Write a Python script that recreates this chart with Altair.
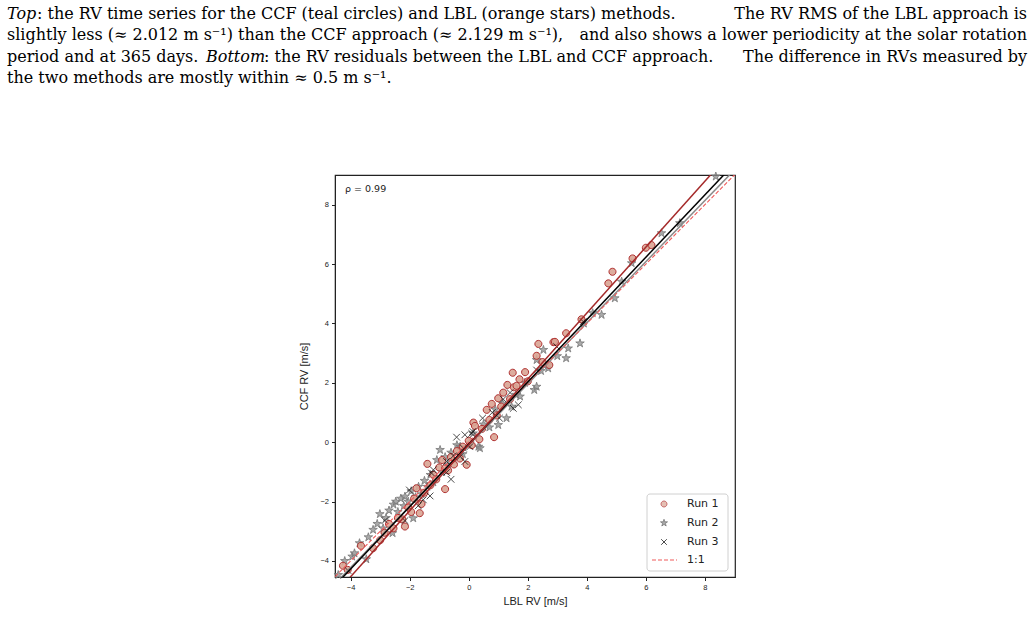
import altair as alt
import pandas as pd

# ---------------- data ----------------
run1_x = [-4.26, -4.10, -3.65, -3.24, -3.00, -2.85, -2.70, -2.55, -2.40, -2.25, -2.16, -2.05, -1.95, -1.85,
          -1.77, -1.66, -1.60, -1.50, -1.40, -1.30, -1.20, -1.10, -1.00, -0.90, -0.80, -0.80, -0.70, -0.60,
          -0.50, -0.40, -0.30, -0.20, -0.07, 0.00, 0.10, 0.16, 0.21, 0.36, 0.45, 0.61, 0.70, 0.78, 0.86,
          0.95, 1.00, 1.10, 1.17, 1.31, 1.40, 1.49, 1.53, 1.62, 1.72, 1.91, 2.00, 2.30, 2.36, 2.50, 2.73,
          2.87, 2.92, 3.30, 3.82, 4.73, 4.87, 5.55, 6.00, 6.19]
run1_y = [-4.16, -4.30, -3.49, -3.57, -3.30, -3.05, -2.75, -2.90, -2.55, -2.60, -2.84, -2.20, -2.35, -1.90,
          -1.55, -2.39, -2.08, -1.70, -0.73, -1.45, -1.10, -1.25, -0.85, -0.60, -0.88, -1.58, -0.95, -0.50,
          -0.75, -0.30, -0.55, -0.15, -0.76, 0.05, -0.10, 0.66, 0.55, 0.10, 0.45, 1.09, 0.75, 1.29, 0.17,
          0.90, 1.48, 1.20, 1.67, 1.93, 1.45, 2.34, 1.85, 1.90, 2.12, 2.36, 2.05, 2.91, 3.31, 2.70, 2.60,
          3.37, 3.38, 3.67, 4.14, 5.35, 5.74, 6.19, 6.55, 6.64]

run2_x = [-4.42, -4.20, -3.95, -3.87, -3.70, -3.47, -3.40, -3.24, -3.10, -3.01, -2.90, -2.80, -2.70, -2.58,
          -2.55, -2.47, -2.40, -2.30, -2.20, -2.16, -2.05, -1.95, -1.88, -1.80, -1.70, -1.60, -1.50, -1.40,
          -1.30, -1.20, -1.08, -0.97, -0.90, -0.80, -0.70, -0.60, -0.50, -0.40, -0.29, -0.20, 0.04, 0.15,
          0.33, 0.38, 0.50, 0.70, 0.90, 1.00, 1.15, 1.28, 1.45, 1.60, 1.74, 1.90, 2.22, 2.30, 2.30, 2.45,
          2.53, 2.69, 2.69, 3.00, 3.30, 3.37, 3.77, 3.90, 4.20, 4.50, 4.95, 5.18, 5.52, 6.53, 7.15, 8.37]
run2_y = [-4.47, -4.00, -3.85, -3.74, -3.40, -3.94, -3.20, -2.95, -2.75, -2.42, -2.90, -2.55, -2.30, -3.06,
          -2.10, -2.00, -2.35, -1.90, -2.15, -1.83, -2.00, -1.65, -2.56, -1.85, -1.50, -1.75, -1.30, -1.50,
          -1.10, -1.35, -0.60, -0.26, -1.00, -0.50, -0.75, -0.35, -0.60, -0.10, -0.15, -0.40, -0.03, 0.30,
          -0.15, -0.20, 0.60, 0.50, 1.10, 0.58, 1.30, 0.81, 1.20, 1.60, 1.54, 2.00, 1.76, 1.87, 2.77, 2.40,
          3.11, 2.49, 2.60, 2.90, 2.83, 3.16, 3.33, 4.00, 4.35, 4.29, 4.85, 5.41, 6.03, 7.04, 7.38, 8.95]

run3_x = [-4.09, -2.84, -2.16, -2.01, -1.71, -1.54, -1.31, -1.26, -1.20, -0.75, -0.60, -0.75, -0.52, -0.29,
          -0.13, -0.18, 0.04, -0.41, -0.13, 0.10, 0.14, 0.47, 0.80, 1.04, 1.17, 1.40, 1.51, 1.68, 2.30,
          2.98, 3.88]
run3_y = [-4.32, -2.64, -2.64, -1.61, -2.14, -1.94, -1.81, -1.04, -0.93, -1.02, -1.25, -0.65, -0.46, -0.48,
          -0.65, -0.20, -0.15, 0.17, 0.25, 0.30, 0.36, 0.81, 1.00, 0.81, 1.45, 1.67, 1.14, 1.26, 2.43,
          3.22, 4.06]

# fitted lines (slope, intercept)
line_names = ["Run 2 fit", "1:1", "Run 3 fit", "Run 1 fit"]
line_slopes = [1.03, 1.00, 1.05, 1.11]
line_inter = [-0.10, 0.00, -0.07, -0.09]
line_colors = ["#8a8a8a", "#f05a5a", "#000000", "#a52a2a"]

x_dom = [-4.53, 9.02]
y_dom = [-4.54, 9.00]
ticks = [-4, -2, 0, 2, 4, 6, 8]

legend_labels = ["Run 1", "Run 2", "Run 3", "1:1"]

cap_font = "DejaVu Serif"
cap_text = [
    "Top",
    ": the RV time series for the CCF (teal circles) and LBL (orange stars) methods.",
    "The RV RMS of the LBL approach is",
    "slightly less (≈ 2.012 m s⁻¹) than the CCF approach (≈ 2.129 m s⁻¹),",
    "and also shows a lower periodicity at the solar rotation",
    "period and at 365 days.",
    "Bottom",
    ": the RV residuals between the LBL and CCF approach.",
    "The difference in RVs measured by",
    "the two methods are mostly within ≈ 0.5 m s⁻¹.",
]

W, H = 400, 402
PL, PT = 335, 175

STAR = ("M0,-1L0.2245,-0.309L0.951,-0.309L0.363,0.118L0.588,0.809L0,0.382L-0.588,0.809"
        "L-0.363,0.118L-0.951,-0.309L-0.2245,-0.309Z")
CIRC = "M1,0A1,1,0,1,1,-1,0A1,1,0,1,1,1,0Z"
XMARK = "M-1,-1L1,1M-1,1L1,-1"

# ---------------- build ----------------
xs = alt.Scale(domain=x_dom, nice=False, zero=False)
ys = alt.Scale(domain=y_dom, nice=False, zero=False)

xenc = alt.X("x:Q", scale=xs, title="LBL RV [m/s]",
             axis=alt.Axis(values=ticks, grid=False, tickSize=3.5, labelFontSize=7.5,
                           titleFontSize=11, titleFontWeight="normal", labelPadding=3,
                           titlePadding=4, domainColor="#222", tickColor="#222", labelColor="#222",
                           titleColor="#222"))
yenc = alt.Y("y:Q", scale=ys, title="CCF RV [m/s]",
             axis=alt.Axis(values=ticks, grid=False, tickSize=3.5, labelFontSize=7.5,
                           titleFontSize=11, titleFontWeight="normal", labelPadding=3,
                           titlePadding=10, domainColor="#222", tickColor="#222", labelColor="#222",
                           titleColor="#222"))

d1 = pd.DataFrame({"x": run1_x, "y": run1_y})
d2 = pd.DataFrame({"x": run2_x, "y": run2_y})
d3 = pd.DataFrame({"x": run3_x, "y": run3_y})

p2 = alt.Chart(d2).mark_point(shape=STAR, filled=True, size=80, fill="#8c8c8c", fillOpacity=0.75,
                              stroke="#777777", strokeWidth=0.8).encode(x=xenc, y=yenc)
p1 = alt.Chart(d1).mark_point(shape=CIRC, filled=True, size=50, fill="#d9a494", fillOpacity=0.9,
                              stroke="#b03030", strokeWidth=1).encode(x=xenc, y=yenc)
p3 = alt.Chart(d3).mark_point(shape=XMARK, filled=False, size=45, stroke="black",
                              strokeWidth=1).encode(x=xenc, y=yenc)

rows = []
for n, m, b in zip(line_names, line_slopes, line_inter):
    for xv in x_dom:
        rows.append({"name": n, "x": xv, "y": m * xv + b})
ld = pd.DataFrame(rows)

lines = []
for n, c in zip(line_names, line_colors):
    kw = dict(color=c, strokeWidth=1.5, clip=True)
    if n == "1:1":
        kw["strokeDash"] = [4, 2]
        kw["strokeWidth"] = 1.1
    lines.append(alt.Chart(ld[ld["name"] == n]).mark_line(**kw).encode(x=xenc, y=yenc))

one = pd.DataFrame({"a": [0]})


def txt(t, x, y, **kw):
    return alt.Chart(one).mark_text(text=t, **kw).encode(x=alt.value(x), y=alt.value(y))


rho = txt("ρ = 0.99", 10, 14, font="DejaVu Sans", fontSize=9.5, align="left", baseline="middle",
          color="#222")

# legend (decoration)
leg_box = alt.Chart(one).mark_rect(fill="white", stroke="#d0d0d0", strokeWidth=1, cornerRadius=3).encode(
    x=alt.value(312), x2=alt.value(393), y=alt.value(319), y2=alt.value(396))
leg_y = [329, 348, 367, 385]
leg_layers = [leg_box]
for lab, yy in zip(legend_labels, leg_y):
    leg_layers.append(txt(lab, 352, yy, font="DejaVu Sans", fontSize=11, align="left",
                          baseline="middle", color="#222"))
leg_layers.append(alt.Chart(one).mark_point(shape=CIRC, filled=True, size=36, fill="#d9a494",
                                            stroke="#b03030", strokeWidth=1).encode(
    x=alt.value(329), y=alt.value(leg_y[0])))
leg_layers.append(alt.Chart(one).mark_point(shape=STAR, filled=True, size=55, fill="#8c8c8c",
                                            fillOpacity=0.75, stroke="#777777", strokeWidth=0.8).encode(
    x=alt.value(329), y=alt.value(leg_y[1])))
leg_layers.append(alt.Chart(one).mark_point(shape=XMARK, filled=False, size=32,
                                            stroke="black", strokeWidth=1).encode(
    x=alt.value(329), y=alt.value(leg_y[2])))
leg_layers.append(alt.Chart(one).mark_rule(color="#f05a5a", strokeDash=[4, 2], strokeWidth=1.1).encode(
    x=alt.value(317), x2=alt.value(342), y=alt.value(leg_y[3])))

# caption segments (absolute page positions, converted to plot-relative)
cap_x = [7, 37, 1027, 7, 1027, 7, 206, 264, 1027, 7]
cap_y = [19, 19, 19, 40, 40, 62, 62, 62, 62, 83]
cap_align = ["left", "left", "right", "left", "right", "left", "left", "left", "right", "left"]
cap_style = ["italic", "normal", "normal", "normal", "normal", "normal", "italic", "normal", "normal", "normal"]

cap_layers = []
for t, cx, cy, al, st in zip(cap_text, cap_x, cap_y, cap_align, cap_style):
    cap_layers.append(txt(t, cx - PL, cy - PT, font=cap_font, fontSize=16, fontStyle=st, align=al,
                          baseline="alphabetic", color="black"))

chart = alt.layer(p2, p1, p3, *lines, rho, *leg_layers, *cap_layers).properties(
    width=W, height=H,
    padding={"left": PL, "top": PT, "right": 1034 - PL - W, "bottom": 638 - PT - H},
    autosize=alt.AutoSizeParams(type="none"),
    background="white",
).configure_view(stroke="#222", strokeWidth=1.2)

chart.save("out.html", embed_options={"renderer": "svg", "actions": False})
